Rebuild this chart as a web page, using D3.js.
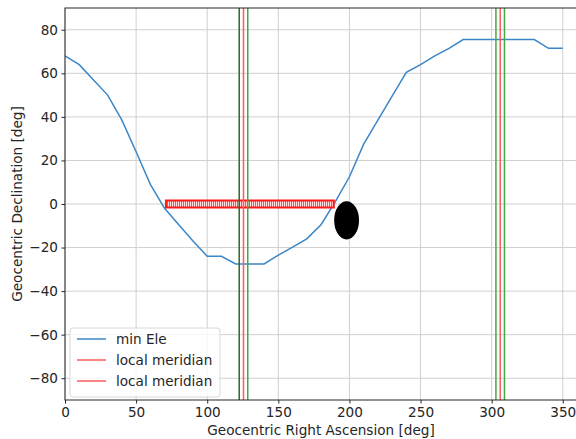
<!DOCTYPE html>
<html>
<head>
<meta charset="utf-8">
<script src="https://cdn.jsdelivr.net/npm/d3@7"></script>
<style>
  body { margin: 0; background: #fff; }
  text { font-family: "DejaVu Sans", sans-serif; }
</style>
</head>
<body>
<div id="vis"></div>
<script>
const W = 576, H = 439;
const margin = { top: 8, right: -1, bottom: 39, left: 65 };
const fontSize = "13.6px";

// min elevation curve (RA deg, Dec deg)
const minEleRA  = [0, 10, 30, 40, 50, 60, 70, 80, 90, 100, 110, 120, 140, 150, 160, 170, 180, 190, 200, 210, 220, 230, 240, 250, 260, 270, 280, 330, 340, 350];
const minEleDec = [68, 64, 50, 38.5, 24, 9, -2, -9.5, -17, -24, -24, -27.5, -27.5, -23.5, -19.8, -16, -9.5, 1, 12.5, 27.5, 38.5, 49.5, 60.5, 64, 68, 71.5, 75.5, 75.5, 71.5, 71.5];

// local meridian and its +/- bounds
const meridianRA = [125.5, 306];
const meridianHalfWidth = 3;

// horizontal band at Dec 0
const bandRA = [71, 189];
const bandDec = 0;

// black target disk
const diskRA = 198, diskDec = -7.5, diskRadius = 8.75;

const xTicks = [0, 50, 100, 150, 200, 250, 300, 350];
const yTicks = [-80, -60, -40, -20, 0, 20, 40, 60, 80];
const legendLabels = ["min Ele", "local meridian", "local meridian"];

const svg = d3.select("#vis").append("svg").attr("width", W).attr("height", H);

const x = d3.scaleLinear().domain([0, 360]).range([margin.left, W - margin.right]);
const y = d3.scaleLinear().domain([-90, 90]).range([H - margin.bottom, margin.top]);

const fmt = d => d < 0 ? "\u2212" + Math.abs(d) : String(d);

// grid
svg.append("g").selectAll("line").data(xTicks).join("line")
  .attr("x1", d => x(d)).attr("x2", d => x(d))
  .attr("y1", y(-90)).attr("y2", y(90))
  .attr("stroke", "#d0d0d0").attr("stroke-width", 1);
svg.append("g").selectAll("line").data(yTicks).join("line")
  .attr("x1", x(0)).attr("x2", x(360))
  .attr("y1", d => y(d)).attr("y2", d => y(d))
  .attr("stroke", "#d0d0d0").attr("stroke-width", 1);

// clip
svg.append("clipPath").attr("id", "clip").append("rect")
  .attr("x", x(0)).attr("y", y(90)).attr("width", x(360) - x(0)).attr("height", y(-90) - y(90));
const plot = svg.append("g").attr("clip-path", "url(#clip)");

// min Ele line
const lineData = minEleRA.map((r, i) => [r, minEleDec[i]]);
plot.append("path")
  .datum(lineData)
  .attr("d", d3.line().x(d => x(d[0])).y(d => y(d[1])))
  .attr("fill", "none").attr("stroke", "#3b86c6").attr("stroke-width", 1.5);

// red band with hatch pattern
const defs = svg.append("defs");
const pat = defs.append("pattern").attr("id", "hatch")
  .attr("patternUnits", "userSpaceOnUse").attr("width", 2).attr("height", 8);
pat.append("rect").attr("width", 2).attr("height", 8).attr("fill", "#ff5050");
pat.append("rect").attr("width", 1).attr("height", 8).attr("fill", "#ffe0e0");

plot.append("rect")
  .attr("x", x(bandRA[0])).attr("width", x(bandRA[1]) - x(bandRA[0]))
  .attr("y", y(bandDec) - 3.5).attr("height", 7)
  .attr("fill", "url(#hatch)").attr("stroke", "#ff1a1a").attr("stroke-width", 2);

// disk
plot.append("ellipse")
  .attr("cx", x(diskRA)).attr("cy", y(diskDec))
  .attr("rx", x(diskRA + diskRadius) - x(diskRA))
  .attr("ry", y(diskDec - diskRadius) - y(diskDec))
  .attr("fill", "#000");

// meridian lines
const merLines = [];
meridianRA.forEach((m, i) => {
  merLines.push({ ra: m - meridianHalfWidth, c: i === 0 ? "#2c6a2c" : "#45a845" });
  merLines.push({ ra: m, c: "#ff5a5a" });
  merLines.push({ ra: m + meridianHalfWidth, c: "#45a845" });
});
plot.append("g").selectAll("line").data(merLines).join("line")
  .attr("x1", d => x(d.ra)).attr("x2", d => x(d.ra))
  .attr("y1", y(-90)).attr("y2", y(90))
  .attr("stroke", d => d.c).attr("stroke-width", 1.5);

// axes
const xAxis = svg.append("g")
  .attr("transform", `translate(0,${y(-90)})`)
  .call(d3.axisBottom(x).tickValues(xTicks).tickSize(3.5).tickPadding(3.5).tickFormat(fmt));
const yAxis = svg.append("g")
  .attr("transform", `translate(${x(0)},0)`)
  .call(d3.axisLeft(y).tickValues(yTicks).tickSize(3.5).tickPadding(3.5).tickFormat(fmt));
[xAxis, yAxis].forEach(a => {
  a.select(".domain").remove();
  a.selectAll("text").style("font-size", fontSize).attr("fill", "#262626");
  a.selectAll("line").attr("stroke", "#262626");
});

// frame
svg.append("rect")
  .attr("x", x(0)).attr("y", y(90))
  .attr("width", x(360) - x(0)).attr("height", y(-90) - y(90))
  .attr("fill", "none").attr("stroke", "#262626").attr("stroke-width", 1);

// axis labels
svg.append("text")
  .attr("x", 321).attr("y", 435)
  .attr("text-anchor", "middle").style("font-size", fontSize).attr("fill", "#262626")
  .text("Geocentric Right Ascension [deg]");
svg.append("text")
  .attr("transform", `translate(22,${y(0)}) rotate(-90)`)
  .attr("text-anchor", "middle").style("font-size", fontSize).attr("fill", "#262626")
  .text("Geocentric Declination [deg]");

// legend
const leg = svg.append("g").attr("transform", "translate(70,328)");
leg.append("rect").attr("width", 150).attr("height", 69).attr("rx", 3)
  .attr("fill", "#fff").attr("fill-opacity", 0.8).attr("stroke", "#d8d8d8");
const legColors = ["#3b86c6", "#ff5a5a", "#ff5a5a"];
legendLabels.forEach((lab, i) => {
  const cy = 11 + i * 21;
  leg.append("line").attr("x1", 7).attr("x2", 36).attr("y1", cy).attr("y2", cy)
    .attr("stroke", legColors[i]).attr("stroke-width", 1.5);
  leg.append("text").attr("x", 46).attr("y", cy + 5)
    .style("font-size", fontSize).attr("fill", "#262626").text(lab);
});
</script>
</body>
</html>
